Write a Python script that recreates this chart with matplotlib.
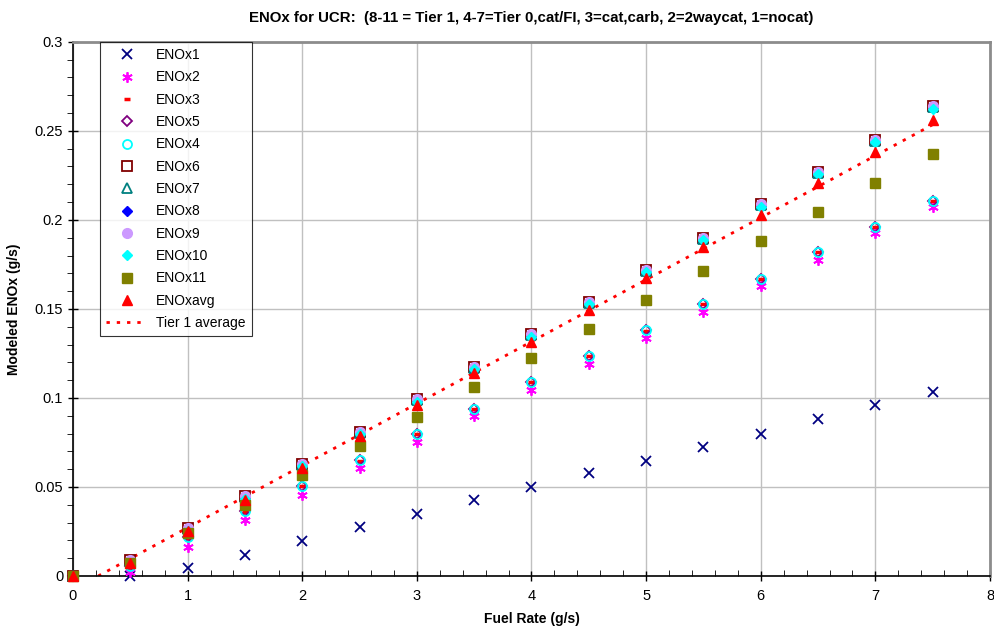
import matplotlib.pyplot as plt
import matplotlib.ticker as mticker

# Datos
fuel = [0, 0.5, 1, 1.5, 2, 2.5, 3, 3.5, 4, 4.5, 5, 5.5, 6, 6.5, 7, 7.5]

enox1 = [0, 0.0, 0.0045, 0.0118, 0.0197, 0.0275, 0.035, 0.0427, 0.050,
         0.058, 0.0646, 0.0725, 0.080, 0.088, 0.096, 0.1034]
enox2 = [0, 0.002, 0.0163, 0.0315, 0.0455, 0.0607, 0.0753, 0.090, 0.1045,
         0.119, 0.1337, 0.148, 0.163, 0.1775, 0.1927, 0.2073]
enox3 = [0, 0.0055, 0.0215, 0.0362, 0.0503, 0.0648, 0.0795, 0.0938, 0.1087,
         0.1233, 0.1378, 0.1527, 0.1668, 0.1817, 0.1958, 0.2105]
enox5 = [0, 0.0056, 0.0218, 0.0363, 0.0505, 0.065, 0.0796, 0.094, 0.1089,
         0.1235, 0.138, 0.153, 0.167, 0.182, 0.196, 0.2107]
enox4 = [0, 0.0056, 0.022, 0.0365, 0.0506, 0.065, 0.0798, 0.094, 0.109,
         0.1236, 0.138, 0.153, 0.167, 0.182, 0.196, 0.2107]
enox6 = [0, 0.009, 0.027, 0.045, 0.063, 0.081, 0.0995, 0.1175, 0.136,
         0.154, 0.172, 0.190, 0.209, 0.227, 0.245, 0.264]
enox7 = [0, 0.0085, 0.0265, 0.0445, 0.0625, 0.0805, 0.099, 0.117, 0.1355,
         0.1535, 0.1715, 0.1895, 0.2085, 0.2265, 0.2445, 0.2635]
enox8 = [0, 0.0085, 0.0265, 0.0445, 0.0625, 0.0805, 0.099, 0.117, 0.1355,
         0.1535, 0.1715, 0.1895, 0.2085, 0.2265, 0.2445, 0.2635]
enox9 = [0, 0.009, 0.027, 0.045, 0.063, 0.081, 0.0995, 0.1175, 0.136,
         0.154, 0.172, 0.190, 0.209, 0.227, 0.245, 0.264]
enox10 = [0, 0.0075, 0.0255, 0.0435, 0.0615, 0.0795, 0.098, 0.116, 0.1345,
          0.1525, 0.1705, 0.1885, 0.2075, 0.2255, 0.2435, 0.2625]
enox11 = [0, 0.0075, 0.024, 0.040, 0.0565, 0.073, 0.0895, 0.106, 0.1225,
          0.139, 0.155, 0.1715, 0.188, 0.2045, 0.221, 0.237]
enoxavg = [0, 0.0075, 0.025, 0.0425, 0.0605, 0.0785, 0.096, 0.114, 0.1315,
           0.1495, 0.1675, 0.185, 0.2025, 0.2205, 0.238, 0.256]

tier1_x = [0.22, 7.5]
tier1_y = [0.0, 0.2535]

titulo = "ENOx for UCR:  (8-11 = Tier 1, 4-7=Tier 0,cat/FI, 3=cat,carb, 2=2waycat, 1=nocat)"

plt.rcParams.update({'font.family': ['Liberation Sans', 'DejaVu Sans']})
fig, ax = plt.subplots(figsize=(9.94, 6.34), dpi=100)
fig.subplots_adjust(left=0.0734, right=0.996, bottom=0.0915, top=0.934)

ms = 6.5
kw = dict(ls='none', clip_on=False, zorder=3)
ax.plot(fuel, enox1, marker='x', color='#000080', ms=ms, mew=1.3, label='ENOx1', **kw)
ax.plot(fuel, enox2, marker=(6, 2, 0), color='#FF00FF', ms=ms + 1, mew=1.3, label='ENOx2', **kw)
ax.plot(fuel, enox3, marker='_', color='#FF0000', ms=4, mew=2.5, label='ENOx3', **kw)
ax.plot(fuel, enox5, marker='D', mfc='none', mec='#800080', ms=ms - 1.5, mew=1.3, label='ENOx5', **kw)
ax.plot(fuel, enox4, marker='o', mfc='none', mec='#00FFFF', ms=ms, mew=1.3, label='ENOx4', **kw)
ax.plot(fuel, enox6, marker='s', mfc='none', mec='#800000', ms=ms, mew=1.3, label='ENOx6', **kw)
ax.plot(fuel, enox7, marker='^', mfc='none', mec='#008080', ms=ms, mew=1.3, label='ENOx7', **kw)
ax.plot(fuel, enox8, marker='D', color='#0000FF', ms=ms - 1, label='ENOx8', **kw)
ax.plot(fuel, enox9, marker='o', color='#CC99FF', ms=ms + 0.5, label='ENOx9', **kw)
ax.plot(fuel, enox10, marker='D', color='#00FFFF', ms=ms - 1, label='ENOx10', **kw)
ax.plot(fuel, enox11, marker='s', color='#808000', ms=ms, label='ENOx11', **kw)
ax.plot(fuel, enoxavg, marker='^', color='#FF0000', ms=ms + 1, label='ENOxavg', **kw)
ax.plot(tier1_x, tier1_y, ls=(0, (1.2, 2.5)), color='#FF0000', lw=2, label='Tier 1 average')

ax.set_xlim(0, 8)
ax.set_ylim(0, 0.3)
ax.xaxis.set_major_locator(mticker.MultipleLocator(1))
ax.xaxis.set_minor_locator(mticker.MultipleLocator(0.2))
ax.yaxis.set_major_locator(mticker.MultipleLocator(0.05))
ax.yaxis.set_minor_locator(mticker.MultipleLocator(0.01))
ax.yaxis.set_major_formatter(mticker.FuncFormatter(lambda v, p: f"{v:g}"))
ax.tick_params(which='major', direction='inout', length=7, labelsize=10.5, width=1)
ax.tick_params(axis='x', which='minor', direction='in', length=4)
ax.tick_params(axis='y', which='minor', direction='out', length=4)
ax.tick_params(axis='x', pad=6)

ax.grid(True, which='major', color='#C0C0C0', lw=1)
ax.set_axisbelow(True)
for s in ['left', 'bottom']:
    ax.spines[s].set_color('black')
    ax.spines[s].set_linewidth(1.2)
for s in ['top', 'right']:
    ax.spines[s].set_color('#8C8C8C')
    ax.spines[s].set_linewidth(2)

ax.set_xlabel("Fuel Rate (g/s)", fontsize=10, fontweight='bold', labelpad=6)
ax.set_ylabel("Modeled ENOx (g/s)", fontsize=10, fontweight='bold', labelpad=10)
ax.set_title(titulo, fontsize=10.8, fontweight='bold', pad=14)

leg = ax.legend(loc='upper left', bbox_to_anchor=(0.029, 1.0), borderaxespad=0,
                fontsize=10, frameon=True, fancybox=False, edgecolor='black',
                labelspacing=0.6, handlelength=3.0, borderpad=0.45, handletextpad=0.6)
leg.get_frame().set_linewidth(0.8)
leg.set_zorder(5)

fig.patch.set_facecolor('white')
fig.savefig('out.png', dpi=100)
